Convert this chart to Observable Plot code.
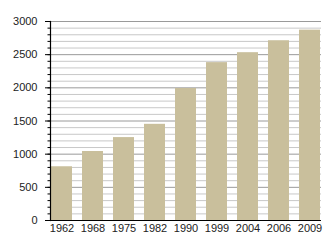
<!DOCTYPE html>
<html><head><meta charset="utf-8">
<script src="https://cdn.jsdelivr.net/npm/d3@7"></script>
<script src="https://cdn.jsdelivr.net/npm/@observablehq/plot@0.6"></script>
<style>body{margin:0;background:#fff}</style>
</head><body><div id="chart"></div>
<script>
const years = ["1962","1968","1975","1982","1990","1999","2004","2006","2009"];
const values = [810, 1040, 1250, 1450, 1990, 2380, 2530, 2710, 2870];
const majorTicks = [0, 500, 1000, 1500, 2000, 2500, 3000];
const minorTicks = d3.range(0, 3001, 100);

const data = years.map((y, i) => ({year: y, value: values[i]}));

const chart = Plot.plot({
  width: 330, height: 250,
  marginLeft: 50, marginRight: 9, marginTop: 21, marginBottom: 30,
  style: {fontFamily: "Liberation Sans, Arial, sans-serif", fontSize: "11px", color: "#222", background: "#fff"},
  x: {domain: years, paddingInner: 0.33, paddingOuter: 0, label: null},
  y: {domain: [0, 3000], label: null},
  marks: [
    Plot.ruleY(minorTicks.filter(d => d % 500 !== 0), {stroke: "#c8c8c8", strokeWidth: 1}),
    Plot.ruleY(majorTicks, {stroke: "#9a9a9a", strokeWidth: 1}),
    Plot.barY(data, {x: "year", y: "value", fill: "#c9bf9c"}),
    Plot.axisY({ticks: minorTicks, tickSize: 2.5, text: null, stroke: "#000"}),
    Plot.axisY({ticks: majorTicks, tickSize: 5, tickPadding: 8, tickFormat: "d", stroke: "#000", fontSize: 11}),
    Plot.axisX({tickSize: 0, tickPadding: 4, fontSize: 11}),
    Plot.ruleY([0], {stroke: "#000", strokeWidth: 1.2}),
    Plot.frame({anchor: "left", stroke: "#000", strokeWidth: 1.2})
  ]
});
document.getElementById("chart").appendChild(chart);
</script></body></html>
